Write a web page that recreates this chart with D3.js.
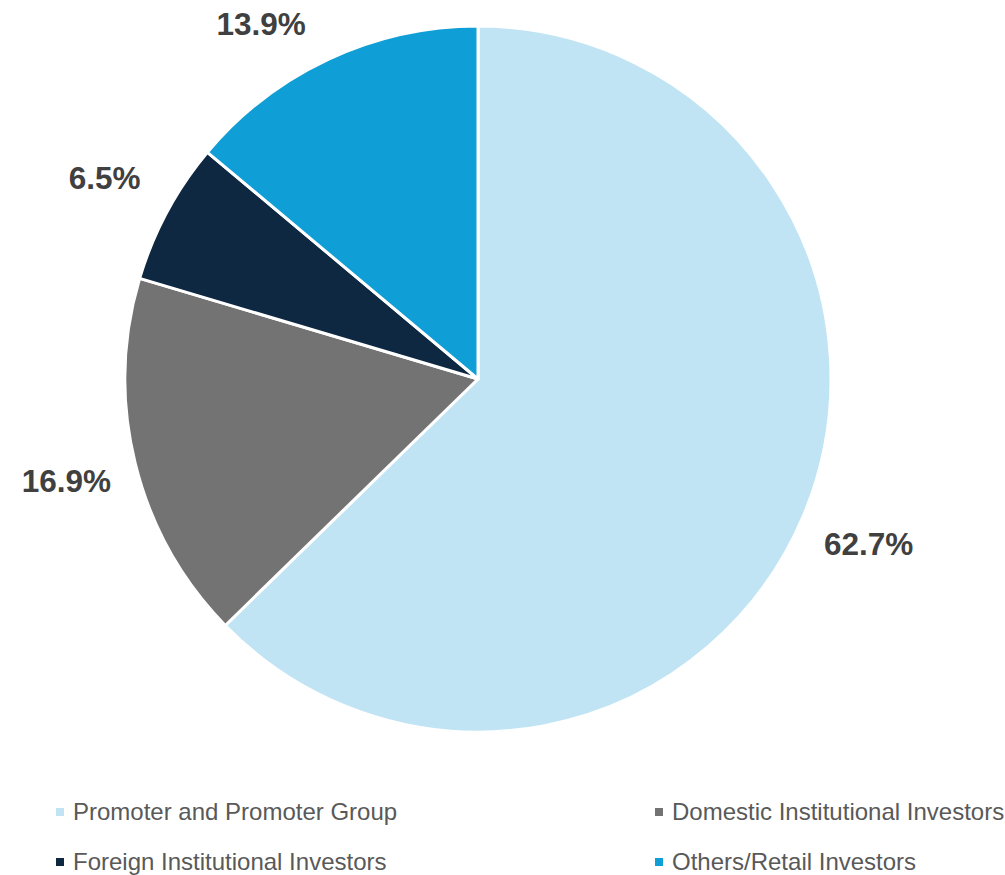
<!DOCTYPE html>
<html><head><meta charset="utf-8">
<script src="https://cdn.jsdelivr.net/npm/d3@7"></script>
<style>body{margin:0;background:#fff;} svg{display:block;}</style>
</head><body>
<svg id="chart" width="1005" height="875"></svg>
<script>
const categories = ["Promoter and Promoter Group","Domestic Institutional Investors","Foreign Institutional Investors","Others/Retail Investors"];
const values = [62.7, 16.9, 6.5, 13.9];
const labels = ["62.7%","16.9%","6.5%","13.9%"];
const colors = ["#C1E4F5","#737373","#0E2841","#0F9ED5"];

const svg = d3.select("#chart");
const cx = 478, cy = 379, r = 353, lr = 424;
const g = svg.append("g").attr("transform", `translate(${cx},${cy})`);
const pie = d3.pie().sort(null).value(d => d)(values);
const arc = d3.arc().innerRadius(0).outerRadius(r);
const labelArc = d3.arc().innerRadius(lr).outerRadius(lr);

g.selectAll("path").data(pie).join("path")
  .attr("d", arc)
  .attr("fill", (d,i) => colors[i])
  .attr("stroke", "#fff").attr("stroke-width", 3).attr("stroke-linejoin","round");

// keep labels inside the canvas: if a label would cross the top edge, slide it along the label circle
const minY = 24 - cy;
function labelPos(d) {
  let [x, y] = labelArc.centroid(d);
  if (y < minY) {
    y = minY;
    x = Math.sign(x) * Math.sqrt(Math.max(0, (lr - 8) * (lr - 8) - y * y));
  }
  return [x, y];
}

g.selectAll("text").data(pie).join("text")
  .attr("transform", d => `translate(${labelPos(d)})`)
  .attr("text-anchor","middle").attr("dy","0.35em")
  .style("font-family","'Liberation Sans', Arial, sans-serif")
  .style("font-weight","bold").style("font-size","31.5px").attr("fill","#404040")
  .text((d,i) => labels[i]);

const legendPos = [[60,812],[659,812],[60,862],[659,862]];
const lg = svg.append("g");
categories.forEach((c,i) => {
  const [x,y] = legendPos[i];
  lg.append("rect").attr("x", x-4).attr("y", y-4).attr("width", 8).attr("height", 8).attr("fill", colors[i]);
  lg.append("text").attr("x", x+13).attr("y", y).attr("dy","0.35em")
    .style("font-family","'Liberation Sans', Arial, sans-serif").style("font-size","24px")
    .attr("fill","#595959").text(c);
});
</script>
</body></html>
